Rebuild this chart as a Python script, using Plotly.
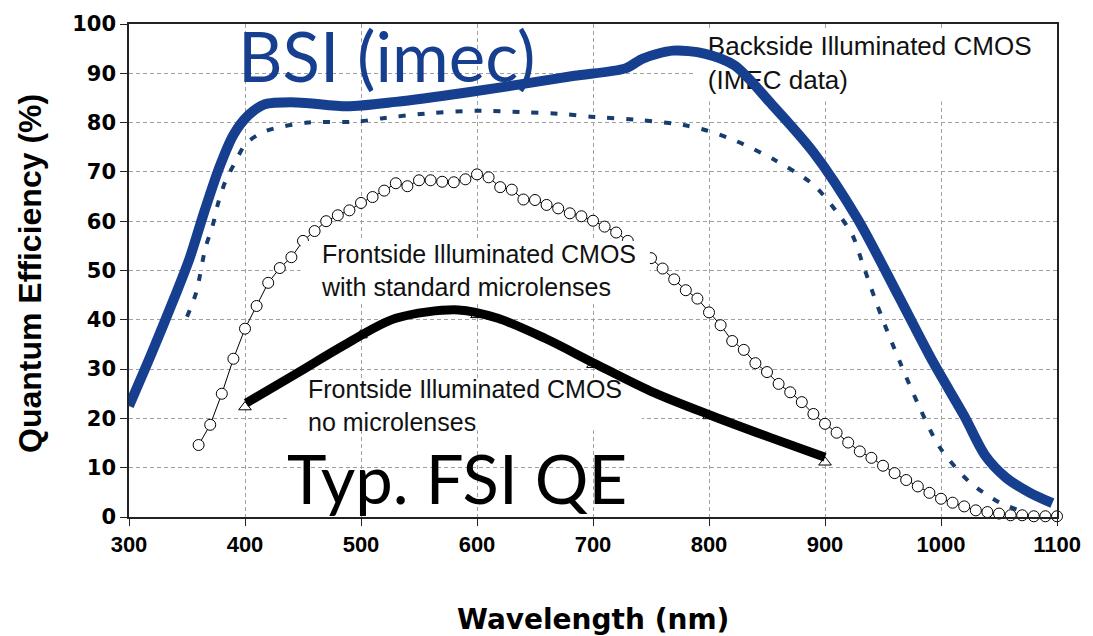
import plotly.graph_objects as go

# ---------------- data ----------------
# Backside illuminated CMOS (IMEC data) - thick blue curve
bsi_nm = [300, 320, 340, 352, 365, 378, 390, 403, 417, 445, 488, 530, 588, 644, 684,
          728, 743, 769, 796, 822, 853, 890, 928, 963, 993, 1020, 1038, 1056, 1076, 1096]
bsi_qe = [22.5, 33.5, 45, 52.3, 62, 71, 77.5, 81.5, 83.7, 84.1, 83.3, 84.2, 86, 88, 89.5,
          91, 93, 94.6, 94, 91.6, 84, 74, 60.5, 45, 31.5, 20.5, 12.5, 8, 5, 2.8]

# Backside illuminated - dotted navy curve
dot_nm = [350, 358, 366, 372, 377, 383, 392, 401, 418, 454, 497, 519, 559, 599, 642, 676,
          698, 741, 778, 798, 822, 856, 890, 913, 924, 932, 943, 951, 965, 981, 999, 1025,
          1050, 1067]
dot_qe = [40.6, 45.6, 54.7, 59, 63.8, 68, 72.2, 75.8, 78.3, 80, 80.2, 80.9, 81.9, 82.4, 82.1,
          81.7, 81.2, 80.5, 79.5, 78.4, 76.4, 72.5, 67.4, 61, 57, 51.7, 44.3, 39.3, 31.2, 22.5,
          14.1, 7, 3, 1.4]

# Frontside illuminated CMOS with standard microlenses - open circles
fsi_ml_nm = [360, 370, 380, 390, 400, 410, 420, 430, 440, 450, 460, 470, 480, 490, 500,
             510, 520, 530, 540, 550, 560, 570, 580, 590, 600, 610, 620, 630, 640, 650,
             660, 670, 680, 690, 700, 710, 720, 730, 740, 750, 760, 770, 780, 790, 800,
             810, 820, 830, 840, 850, 860, 870, 880, 890, 900, 910, 920, 930, 940, 950,
             960, 970, 980, 990, 1000, 1010, 1020, 1030, 1040, 1050, 1060, 1070, 1080,
             1090, 1100]
fsi_ml_qe = [14.6, 18.7, 25, 32.1, 38.2, 42.8, 47.5, 50.5, 52.7, 56, 58, 60, 61.2, 62.2, 63.7,
             64.9, 66.2, 67.7, 67.1, 68.3, 68.3, 68, 67.9, 68.5, 69.5, 68.9, 66.9, 66.4, 64.4, 64.3,
             63.3, 62.6, 61.6, 61, 60.1, 58.9, 57.7, 56, 54, 52.5, 50.4, 48.2, 46, 44.3, 41.5,
             38.9, 35.7, 33.9, 31.2, 29.4, 27, 25.3, 23.3, 20.9, 18.9, 17.1, 15.1, 13.3, 12, 10.4,
             8.9, 7.5, 6.2, 4.9, 3.7, 2.9, 2.15, 1.35, 1.0, 0.7, 0.35, 0.35, 0.15,
             0.15, 0.15]

# Frontside illuminated CMOS, no microlenses - triangles + thick black curve
tri_nm = [400, 500, 600, 700, 800, 900]
tri_qe = [22.3, 36.9, 41, 30.9, 20.5, 11.1]
fsi_nm = [401, 445, 488, 530, 584, 618, 659, 701, 750, 803, 853, 900]
fsi_qe = [23.1, 29.2, 35.2, 40.3, 42, 40.3, 36.2, 31.2, 25.5, 20.5, 16.1, 12.1]

x_ticks = [300, 400, 500, 600, 700, 800, 900, 1000, 1100]
y_ticks = [0, 10, 20, 30, 40, 50, 60, 70, 80, 90, 100]

BLUE = "#173F8F"
NAVY = "#163D6E"

fig = go.Figure()

# label drawn under the blue curve
fig.add_trace(go.Scatter(
    x=[799], y=[91.6], mode="text",
    text=["Backside Illuminated CMOS<br>(IMEC data)"],
    textposition="middle right",
    textfont=dict(family="Liberation Sans", size=26, color="#111111"),
    hoverinfo="skip", showlegend=False))

fig.add_trace(go.Scatter(
    x=dot_nm, y=dot_qe, mode="lines", line=dict(color=NAVY, width=4, dash="7px,12px",
                                                 shape="spline", smoothing=0.8),
    showlegend=False))

fig.add_trace(go.Scatter(
    x=fsi_ml_nm, y=fsi_ml_qe, mode="lines+markers",
    line=dict(color="black", width=1),
    marker=dict(symbol="circle", size=11, color="white", line=dict(color="black", width=1)),
    cliponaxis=False, showlegend=False))

fig.add_trace(go.Scatter(
    x=tri_nm, y=tri_qe, mode="markers",
    marker=dict(symbol="triangle-up", size=11, color="white", line=dict(color="black", width=1)),
    showlegend=False))

fig.add_trace(go.Scatter(
    x=fsi_nm, y=fsi_qe, mode="lines",
    line=dict(color="black", width=9, shape="spline", smoothing=0.9),
    showlegend=False))

fig.add_trace(go.Scatter(
    x=bsi_nm, y=bsi_qe, mode="lines",
    line=dict(color=BLUE, width=10, shape="spline", smoothing=0.8),
    showlegend=False))

shapes = [
    # white box behind the backside label (hides gridlines only)
    dict(type="rect", xref="x", yref="y", x0=788, x1=1101, y0=84.3, y1=98.6,
         fillcolor="white", line=dict(width=0), layer="between"),
    # white box behind the "no microlenses" label
    dict(type="rect", xref="x", yref="y", x0=437, x1=742, y0=17.6, y1=28.2,
         fillcolor="white", line=dict(width=0), layer="between"),
    # white box of the "standard microlenses" label (covers circles)
    dict(type="rect", xref="x", yref="y", x0=448, x1=749, y0=43.8, y1=56.0,
         fillcolor="white", line=dict(width=0), layer="above"),
]

annotations = [
    dict(x=392.6, y=93.6, xref="x", yref="y", text="BSI (imec)", showarrow=False,
         xanchor="left", yanchor="middle",
         font=dict(family="Lato", size=69, color=BLUE)),
    dict(x=434.4, y=8.0, xref="x", yref="y", text="Typ. FSI QE", showarrow=False,
         xanchor="left", yanchor="middle",
         font=dict(family="Lato", size=67, color="black")),
    dict(x=464, y=50.0, xref="x", yref="y",
         text="Frontside Illuminated CMOS<br>with standard microlenses", showarrow=False,
         xanchor="left", yanchor="middle", align="left",
         font=dict(family="Liberation Sans", size=25, color="#111111")),
    dict(x=453, y=22.6, xref="x", yref="y",
         text="Frontside Illuminated CMOS<br>no microlenses", showarrow=False,
         xanchor="left", yanchor="middle", align="left",
         font=dict(family="Liberation Sans", size=25, color="#111111")),
    dict(x=0.5, y=-0.208, xref="paper", yref="paper", text="Wavelength (nm)",
         showarrow=False, xanchor="center", yanchor="middle",
         font=dict(family="DejaVu Sans", size=28, color="black", weight="bold")),
    dict(x=-0.1068, y=0.4947, xref="paper", yref="paper", text="Quantum Efficiency (%)",
         showarrow=False, xanchor="center", yanchor="middle", textangle=-90,
         font=dict(family="Liberation Sans", size=32, color="black", weight="bold")),
]

fig.update_layout(
    width=1093, height=636,
    margin=dict(l=129, r=25, t=20, b=119),
    paper_bgcolor="white", plot_bgcolor="white",
    shapes=shapes, annotations=annotations,
    showlegend=False,
)

fig.update_xaxes(
    range=[300, 1100], tickvals=x_ticks, ticktext=[str(v) for v in x_ticks],
    showgrid=True, gridcolor="#A0A0A0", griddash="4px,3px", gridwidth=1,
    zeroline=False, showline=True, linecolor="#222222", linewidth=1.5, mirror=True,
    ticks="outside", ticklen=7, tickcolor="#222222",
    tickfont=dict(family="Liberation Sans", size=22, color="black", weight="bold"),
)
fig.update_yaxes(
    range=[0, 100], tickvals=y_ticks, ticktext=[str(v) for v in y_ticks],
    showgrid=True, gridcolor="#A0A0A0", griddash="4px,3px", gridwidth=1,
    zeroline=False, showline=True, linecolor="#222222", linewidth=1.5, mirror=True,
    ticks="outside", ticklen=7, tickcolor="#222222",
    tickfont=dict(family="DejaVu Sans", size=21, color="black", weight="bold"),
)

fig.write_html("out.html")
